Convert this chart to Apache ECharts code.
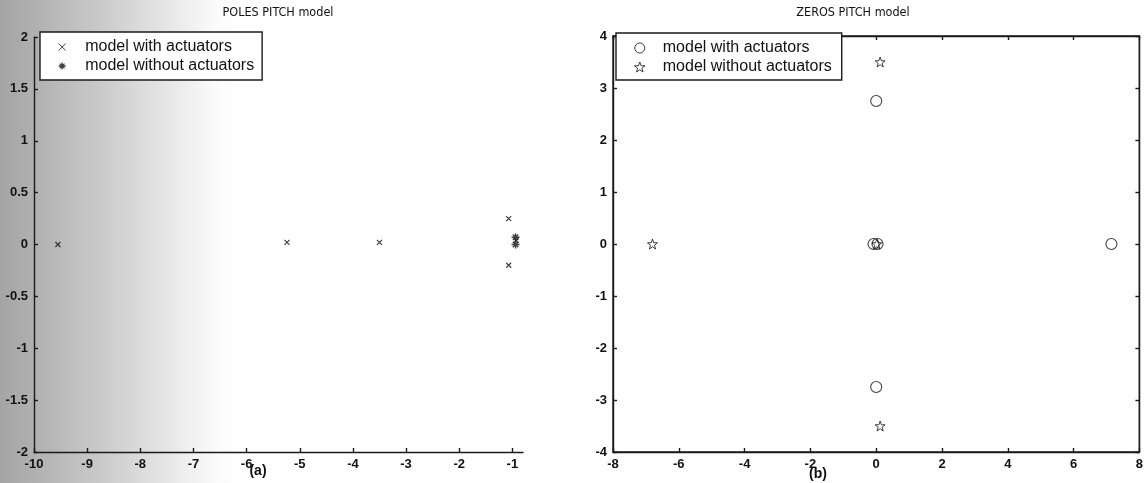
<!DOCTYPE html>
<html>
<head>
<meta charset="utf-8">
<script src="https://cdn.jsdelivr.net/npm/echarts@6/dist/echarts.min.js"></script>
<style>
html,body{margin:0;padding:0;}
body{width:1146px;height:483px;background:linear-gradient(to right,#a4a4a4 0px,#b6b6b6 50px,#d2d2d2 120px,#ececec 180px,#fafafa 215px,#ffffff 240px);}
#c{width:1146px;height:483px;}
</style>
</head>
<body>
<div id="c"></div>
<script>
// ---- data ----
const titlesText = ['POLES PITCH model', 'ZEROS PITCH model'];
const panelLabels = ['(a)', '(b)'];
const legendNames = ['model with actuators', 'model without actuators'];
// Poles (left panel) [real, imag]
const polesWithAct = [[-9.55, 0.0], [-5.24, 0.02], [-3.5, 0.02], [-1.07, 0.25], [-1.07, -0.2], [-0.93, 0.04]];
const polesWithoutAct = [[-0.94, 0.07], [-0.94, 0.0]];
// Zeros (right panel) [real, imag]
const zerosWithAct = [[-0.08, 0.0], [0.04, 0.0], [0.0, 2.75], [0.0, -2.75], [7.15, 0.0]];
const zerosWithoutAct = [[-6.8, 0.0], [0.02, 0.0], [0.12, 3.5], [0.12, -3.5]];
// axes ranges / ticks
const leftX = {min: -10, max: -0.8, interval: 1};
const leftY = {min: -2, max: 2, interval: 0.5};
const rightX = {min: -8, max: 8, interval: 2};
const rightY = {min: -4, max: 4, interval: 1};

const crossPath = 'path://M0,0L10,10M10,0L0,10';
const astPath = 'path://M5,0L5,10M0,5L10,5M1.6,1.6L8.4,8.4M8.4,1.6L1.6,8.4';
const starPath = 'path://M10,0L12.35,6.76L19.51,6.91L13.8,11.24L15.88,18.09L10,14L4.12,18.09L6.2,11.24L0.49,6.91L7.65,6.76Z';

const FONT = '"Liberation Sans", Arial, sans-serif';
const NARROW = '"Liberation Sans Narrow", "DejaVu Sans Condensed", "Liberation Sans", sans-serif';
const lineStyle = {color: '#1a1a1a', width: 1.4};
const lab = {color: '#111', fontFamily: FONT, fontSize: 13, fontWeight: 'bold'};
const strokeOnly = (w) => ({color: 'rgba(0,0,0,0)', borderColor: '#111', borderWidth: w});

function xAx(r, gi, extra) {
  return Object.assign({
    type: 'value', gridIndex: gi, min: r.min, max: r.max, interval: r.interval,
    axisLine: {show: true, onZero: false, lineStyle: lineStyle},
    axisTick: {show: true, inside: true, length: 4, lineStyle: lineStyle},
    axisLabel: Object.assign({margin: 6, showMaxLabel: r.max % r.interval === 0}, lab),
    splitLine: {show: false}
  }, extra || {});
}
function yAx(r, gi, extra) {
  return Object.assign({
    type: 'value', gridIndex: gi, min: r.min, max: r.max, interval: r.interval,
    axisLine: {show: true, onZero: false, lineStyle: lineStyle},
    axisTick: {show: true, inside: true, length: 4, lineStyle: lineStyle},
    axisLabel: Object.assign({margin: 6}, lab),
    splitLine: {show: false}
  }, extra || {});
}

const legendCommon = {
  orient: 'vertical', padding: [7, 8, 6, 18], itemGap: 3,
  itemWidth: 36, borderColor: '#1a1a1a', borderWidth: 1.4, backgroundColor: '#fff',
  formatter: (n) => n.trim(),
  textStyle: {fontFamily: FONT, fontSize: 16, color: '#111'}, selectedMode: false
};

const chart = echarts.init(document.getElementById('c'), null, {renderer: 'canvas'});
chart.setOption({
  backgroundColor: 'transparent',
  animation: false,
  grid: [
    {left: 34, top: 37, width: 489, height: 415},
    {left: 613, top: 36, width: 531, height: 416, show: true, borderColor: '#1a1a1a', borderWidth: 1.4, backgroundColor: 'transparent'}
  ],
  xAxis: [
    xAx(leftX, 0),
    xAx(rightX, 1),
    xAx(rightX, 1, {position: 'top', axisLabel: {show: false}})
  ],
  yAxis: [
    yAx(leftY, 0),
    yAx(rightY, 1),
    yAx(rightY, 1, {position: 'right', axisLabel: {show: false}})
  ],
  legend: [
    Object.assign({}, legendCommon, {
      data: [
        {name: legendNames[0], icon: crossPath, itemStyle: strokeOnly(1)},
        {name: legendNames[1] + ' ', icon: astPath, itemStyle: strokeOnly(1.3)}
      ],
      left: 40, top: 32, itemHeight: 7
    }),
    Object.assign({}, legendCommon, {
      data: [
        {name: legendNames[0] + '  ', icon: 'circle', itemStyle: strokeOnly(1)},
        {name: legendNames[1] + '   ', icon: starPath, itemStyle: strokeOnly(1)}
      ],
      left: 616, top: 33, itemHeight: 10, padding: [7, 10, 5, 18]
    })
  ],
  graphic: [
    {type: 'text', x: 278, y: 6, style: {text: titlesText[0], textAlign: 'center', font: '12.5px ' + NARROW, fill: '#111'}},
    {type: 'text', x: 853, y: 6, style: {text: titlesText[1], textAlign: 'center', font: '12.5px ' + NARROW, fill: '#111'}},
    {type: 'text', x: 258, y: 464, style: {text: panelLabels[0], textAlign: 'center', font: 'bold 14px ' + FONT, fill: '#111'}},
    {type: 'text', x: 818, y: 467, style: {text: panelLabels[1], textAlign: 'center', font: 'bold 14px ' + FONT, fill: '#111'}}
  ],
  series: [
    {name: legendNames[0], type: 'scatter', xAxisIndex: 0, yAxisIndex: 0, data: polesWithAct,
     symbol: crossPath, symbolSize: 5, itemStyle: strokeOnly(1.2)},
    {name: legendNames[1] + ' ', type: 'scatter', xAxisIndex: 0, yAxisIndex: 0, data: polesWithoutAct,
     symbol: astPath, symbolSize: 8, itemStyle: strokeOnly(1.4)},
    {name: legendNames[0] + '  ', type: 'scatter', xAxisIndex: 1, yAxisIndex: 1, data: zerosWithAct,
     symbol: 'circle', symbolSize: 11, itemStyle: strokeOnly(1.1)},
    {name: legendNames[1] + '   ', type: 'scatter', xAxisIndex: 1, yAxisIndex: 1, data: zerosWithoutAct,
     symbol: starPath, symbolSize: 10, itemStyle: strokeOnly(1)}
  ]
});
</script>
</body>
</html>
